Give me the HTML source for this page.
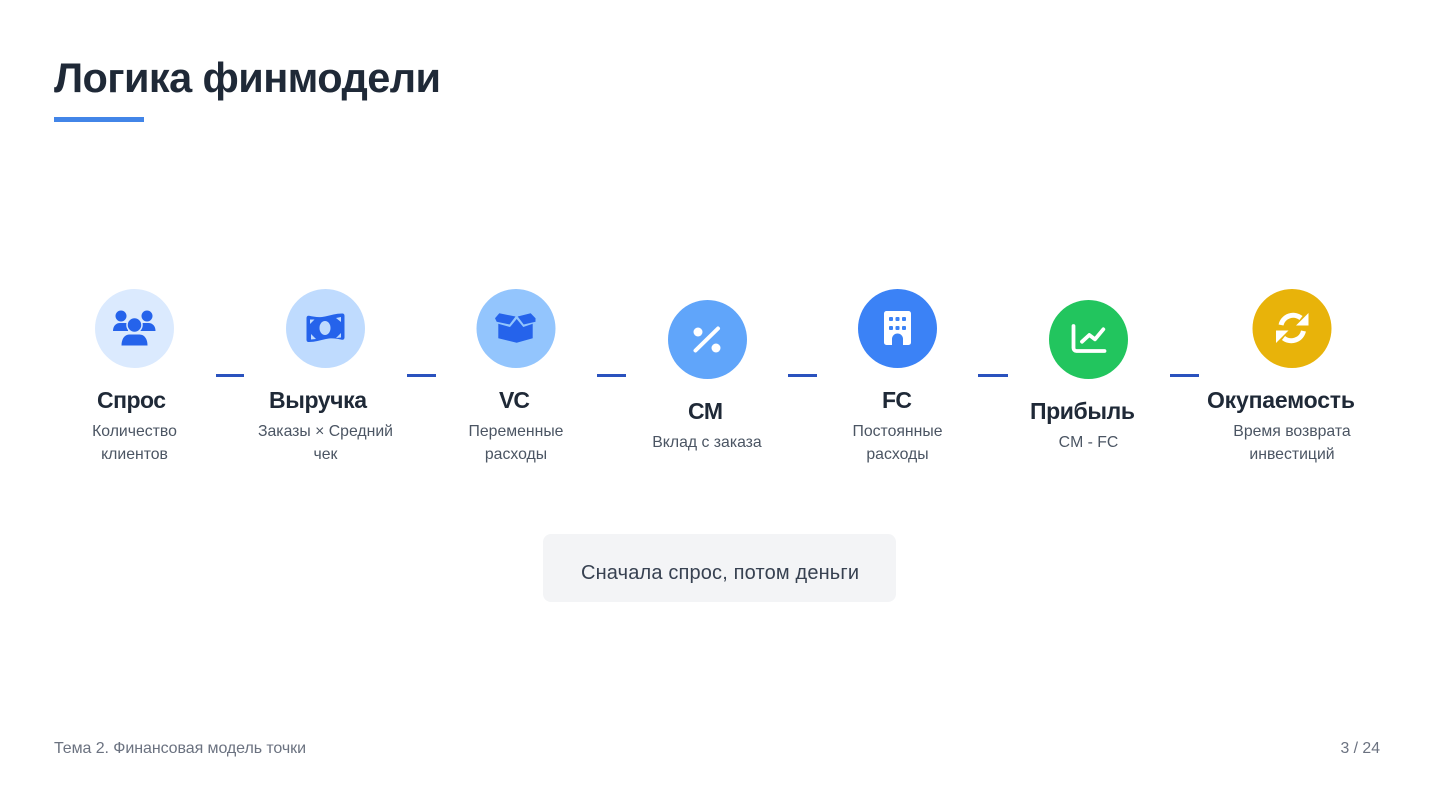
<!DOCTYPE html>
<html lang="ru">
<head>
<meta charset="utf-8">
<title>Логика финмодели</title>
<style>
html,body{margin:0;padding:0;background:#fff;width:1440px;height:810px;overflow:hidden}
svg{display:block}
text{font-family:"Liberation Sans",sans-serif}
.h{font-size:23px;font-weight:700;fill:#1f2937}
.s{font-size:15.8px;fill:#4b5563}
.c{text-anchor:middle}
</style>
</head>
<body>
<svg width="1440" height="810" viewBox="0 0 1440 810" xmlns="http://www.w3.org/2000/svg">
<rect width="1440" height="810" fill="#fff"/>
<text x="54" y="92" font-size="41.500" font-weight="700" fill="#1f2937" textLength="387">Логика финмодели</text>
<rect x="54" y="117" width="90" height="5" fill="#4285e8"/>

<g fill="#2a52be">
<rect x="216" y="374" width="28" height="3"/>
<rect x="407" y="374" width="29" height="3"/>
<rect x="597" y="374" width="29" height="3"/>
<rect x="788" y="374" width="29" height="3"/>
<rect x="978" y="374" width="30" height="3"/>
<rect x="1170" y="374" width="29" height="3"/>
</g>

<circle cx="134.5" cy="328.5" r="39.5" fill="#dbeafe"/>
<circle cx="325.5" cy="328.5" r="39.5" fill="#bfdbfe"/>
<circle cx="516" cy="328.5" r="39.5" fill="#93c5fd"/>
<circle cx="707.5" cy="339.5" r="39.5" fill="#60a5fa"/>
<circle cx="897.5" cy="328.5" r="39.5" fill="#3b82f6"/>
<circle cx="1088.5" cy="339.5" r="39.5" fill="#22c55e"/>
<circle cx="1292" cy="328.5" r="39.5" fill="#e8b30a"/>

<!-- users -->
<g fill="#2563eb">
<circle cx="121" cy="316" r="5.500"/><circle cx="147" cy="316" r="5.500"/>
<path d="M113 331c0-5 3-8 7-8h5c2 0 3 .5 4 1.500l-1 6.500z"/>
<path d="M155.500 331c0-5-3-8-7-8h-5c-2 0-3 .5-4 1.500l1 6.500z"/>
<circle cx="134.500" cy="325" r="7.500" stroke="#dbeafe" stroke-width="1.500"/>
<path d="M121.500 345.500c0-6.500 3-11 8-11h10c5 0 8 4.500 8 11z"/>
</g>
<!-- money -->
<path d="M306.500 318c0-1.500 1-2.500 2.500-2.200 5 1 10 2 16 .7 6-1.300 11-3 17-3 2 0 2.500 1 2.500 2.500v21.500c0 1.500-1 2.500-2.500 2.200-5-1-10-2-16-.7-6 1.300-11 3-17 3-2 0-2.500-1-2.500-2.500z" fill="#2563eb"/>
<ellipse cx="325" cy="328" rx="5.500" ry="7" fill="#bfdbfe"/>
<g fill="#bfdbfe">
<path d="M310 319.500h4.500l-4.500 4.500z"/><path d="M341 317l-5 1 5 4z"/>
<path d="M311 334l5 5-5 .5z"/><path d="M341 333l-5 5 5-.5z"/>
</g>
<!-- box -->
<g fill="#2563eb">
<path d="M495 318.300l4.300-5 16.200 3.200-6 8-12.800-2.800z"/>
<path d="M535.500 318.300l-4.800-5-13 3.200 6 8 11.800-2.800z"/>
<path d="M498.300 323.800l11.700 3.200 6.700-8 6.600 8 9.400-3.200v14.500l-16 4.400-18.400-4.400z"/>
</g>
<!-- percent -->
<g fill="#fff"><circle cx="698" cy="332" r="4.500"/><circle cx="716" cy="348" r="4.500"/></g>
<line x1="695.500" y1="350.500" x2="718" y2="328.500" stroke="#fff" stroke-width="4" stroke-linecap="round"/>
<!-- building -->
<rect x="884" y="311" width="27" height="34" rx="2.500" fill="#fff"/>
<g fill="#3b82f6">
<rect x="889" y="317" width="4" height="4" rx="1"/><rect x="895.500" y="317" width="4" height="4" rx="1"/><rect x="902" y="317" width="4" height="4" rx="1"/>
<rect x="889" y="326" width="4" height="4" rx="1"/><rect x="895.500" y="326" width="4" height="4" rx="1"/><rect x="902" y="326" width="4" height="4" rx="1"/>
<path d="M892 345v-6a5.500 5.500 0 0 1 11 0v6z"/>
</g>
<!-- chart -->
<path d="M1073.500 326v22a3 3 0 0 0 3 3h28" fill="none" stroke="#fff" stroke-width="3.800" stroke-linecap="round"/>
<path d="M1082 341.700l7.300-6.700 5.700 4.300 8.300-10" fill="none" stroke="#fff" stroke-width="3.800" stroke-linecap="round" stroke-linejoin="round"/>
<!-- sync -->
<g fill="none" stroke="#fff" stroke-width="5">
<path d="M1281 325a12.500 12.500 0 0 1 20-7"/>
<path d="M1303.500 331a12.500 12.500 0 0 1-20 7"/>
</g>
<g fill="#fff">
<path d="M1308.500 313v12.500h-12.500z"/>
<path d="M1276 343v-12.500h12.500z"/>
</g>

<text class="h" x="97" y="408" textLength="69">Спрос</text>
<text class="h" x="269" y="408" textLength="98">Выручка</text>
<text class="h" x="499" y="408" textLength="31">VC</text>
<text class="h" x="688" y="419" textLength="35">CM</text>
<text class="h" x="882" y="408" textLength="30">FC</text>
<text class="h" x="1030" y="419" textLength="105">Прибыль</text>
<text class="h" x="1207" y="408" textLength="148">Окупаемость</text>

<text class="s c" x="134.500" y="436">Количество</text>
<text class="s c" x="134.500" y="459">клиентов</text>
<text class="s c" x="325.500" y="436">Заказы × Средний</text>
<text class="s c" x="325.500" y="459">чек</text>
<text class="s c" x="516" y="436">Переменные</text>
<text class="s c" x="516" y="459">расходы</text>
<text class="s c" x="707" y="447">Вклад с заказа</text>
<text class="s c" x="897.500" y="436">Постоянные</text>
<text class="s c" x="897.500" y="459">расходы</text>
<text class="s c" x="1088.500" y="447">CM - FC</text>
<text class="s c" x="1292" y="436">Время возврата</text>
<text class="s c" x="1292" y="459">инвестиций</text>

<rect x="543" y="534" width="353" height="68" rx="8" fill="#f3f4f6"/>
<text x="581" y="579" font-size="20" fill="#374151" textLength="278">Сначала спрос, потом деньги</text>

<text x="54" y="753" font-size="16" fill="#6b7280" textLength="252">Тема 2. Финансовая модель точки</text>
<text x="1380" y="753" font-size="15.800" fill="#6b7280" text-anchor="end">3 / 24</text>
</svg>
</body>
</html>
